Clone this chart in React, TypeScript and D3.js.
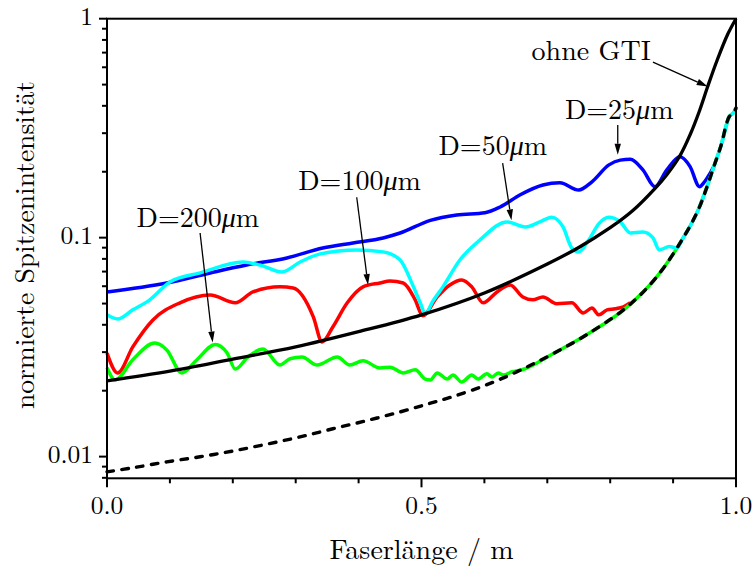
import React from 'react';
import * as d3 from 'd3';

const W = 753;
const H = 568;
const FONT = '"Latin Modern Roman", "Liberation Serif", serif';

type P = [number, number];

// x tick values / labels
const xMajorTicks = [0, 0.5, 1.0];
const xMajorLabels = ['0.0', '0.5', '1.0'];
const xMinorTicks = [0.1, 0.2, 0.3, 0.4, 0.6, 0.7, 0.8, 0.9];
// y tick values / labels
const yMajorTicks = [1, 0.1, 0.01];
const yMajorLabels = ['1', '0.1', '0.01'];

const xTitle = 'Faserlänge / m';
const yTitle = 'normierte Spitzenintensität';

// ohne GTI (solid black)
const ohneGTI: P[] = [
  [0, 0.0222], [0.1, 0.0246], [0.2, 0.0279], [0.3, 0.0317], [0.4, 0.0372],
  [0.5, 0.0444], [0.6, 0.0559], [0.7, 0.0758], [0.75, 0.0902], [0.8, 0.111], [0.836, 0.133],
  [0.871, 0.1675], [0.89, 0.194], [0.911, 0.237], [0.927, 0.295], [0.942, 0.38],
  [0.955, 0.49], [0.97, 0.646], [0.987, 0.851], [1.0, 1.0],
];

// limit curve (dashed black)
const limitCurve: P[] = [
  [0, 0.00852], [0.041, 0.00889], [0.095, 0.00946], [0.148, 0.00998], [0.2, 0.0106], [0.254, 0.0114],
  [0.307, 0.0123], [0.359, 0.0134], [0.413, 0.0146], [0.466, 0.016], [0.51, 0.0174], [0.55, 0.0188],
  [0.604, 0.0213], [0.657, 0.0248], [0.709, 0.0295], [0.763, 0.0361], [0.827, 0.0483], [0.874, 0.0662],
  [0.916, 0.0997], [0.94, 0.134], [0.954, 0.171], [0.965, 0.212], [0.976, 0.262], [0.989, 0.356],
  [0.997, 0.375], [1.0, 0.391],
];

// D = 25 µm (blue)
const d25: P[] = [
  [0, 0.0565], [0.095, 0.0621], [0.164, 0.069], [0.222, 0.075], [0.286, 0.0808], [0.343, 0.0897],
  [0.391, 0.0946], [0.439, 0.0997], [0.466, 0.105], [0.514, 0.12], [0.556, 0.127], [0.601, 0.13],
  [0.625, 0.138], [0.657, 0.157], [0.693, 0.174], [0.72, 0.178], [0.75, 0.165], [0.771, 0.18],
  [0.798, 0.215], [0.816, 0.226], [0.832, 0.228], [0.852, 0.204], [0.871, 0.171], [0.89, 0.204],
  [0.911, 0.234], [0.927, 0.211], [0.942, 0.171], [0.95, 0.18], [0.958, 0.195], [0.965, 0.212],
];

// D = 50 µm (cyan)
const d50: P[] = [
  [0, 0.0444], [0.017, 0.0425], [0.041, 0.0468], [0.068, 0.052], [0.1, 0.0627], [0.148, 0.069],
  [0.216, 0.0774], [0.243, 0.075], [0.278, 0.0697], [0.307, 0.0774], [0.339, 0.0843], [0.397, 0.0879],
  [0.439, 0.0861], [0.466, 0.0791], [0.486, 0.0608], [0.498, 0.0504], [0.506, 0.0449], [0.518, 0.0512],
  [0.534, 0.0596], [0.561, 0.0791], [0.593, 0.0977], [0.636, 0.118], [0.665, 0.112], [0.688, 0.118],
  [0.707, 0.124], [0.725, 0.112], [0.739, 0.0897], [0.75, 0.0861], [0.766, 0.0977], [0.782, 0.116],
  [0.798, 0.124], [0.816, 0.118], [0.832, 0.105], [0.852, 0.106], [0.868, 0.0997], [0.878, 0.0879],
  [0.894, 0.091], [0.906, 0.0897], [0.916, 0.0997], [0.94, 0.134], [0.954, 0.171], [0.965, 0.212],
  [0.976, 0.262], [0.989, 0.356], [0.997, 0.375], [1.0, 0.391],
];

// D = 100 µm (red)
const d100: P[] = [
  [0, 0.0297], [0.017, 0.0241], [0.041, 0.0317], [0.073, 0.0421], [0.116, 0.0504], [0.164, 0.0547],
  [0.204, 0.0504], [0.232, 0.0565], [0.275, 0.0596], [0.296, 0.0589], [0.328, 0.0435], [0.342, 0.0334],
  [0.359, 0.0391], [0.382, 0.0504], [0.407, 0.0596], [0.434, 0.0621], [0.45, 0.0634], [0.471, 0.0621],
  [0.49, 0.052], [0.502, 0.044], [0.525, 0.0536], [0.545, 0.0608], [0.564, 0.0641], [0.58, 0.0596],
  [0.598, 0.0504], [0.62, 0.0565], [0.641, 0.0608], [0.661, 0.0536], [0.677, 0.052], [0.693, 0.0536],
  [0.715, 0.0499], [0.739, 0.0504], [0.757, 0.0453], [0.771, 0.0477], [0.782, 0.0444], [0.795, 0.0468],
  [0.808, 0.0473], [0.821, 0.0483], [0.832, 0.0504],
];

// D = 200 µm (green)
const d200: P[] = [
  [0, 0.0255], [0.013, 0.0224], [0.041, 0.0277], [0.076, 0.033], [0.095, 0.0307], [0.119, 0.0241],
  [0.143, 0.0277], [0.172, 0.0325], [0.191, 0.0297], [0.204, 0.0251], [0.224, 0.0285], [0.248, 0.031],
  [0.275, 0.0262], [0.291, 0.028], [0.31, 0.0285], [0.334, 0.0262], [0.366, 0.0285], [0.386, 0.0262],
  [0.407, 0.0274], [0.434, 0.0254], [0.45, 0.0256], [0.471, 0.0241], [0.49, 0.0249], [0.506, 0.0226],
  [0.514, 0.0224], [0.525, 0.0241], [0.541, 0.0226], [0.55, 0.0236], [0.564, 0.0219], [0.58, 0.0236],
  [0.59, 0.0226], [0.604, 0.0239], [0.612, 0.0231], [0.622, 0.0241], [0.63, 0.0236], [0.644, 0.0244],
  [0.657, 0.0248], [0.709, 0.0295], [0.763, 0.0361], [0.827, 0.0483], [0.874, 0.0662], [0.916, 0.0997],
  [0.94, 0.134], [0.954, 0.171], [0.965, 0.212], [0.976, 0.262], [0.989, 0.356], [0.997, 0.375], [1.0, 0.391],
];

// annotations: label, label anchor (x, value), arrow start, arrow tip (data coords)
const annotations = [
  { pre: 'ohne GTI', mu: false, num: '', tx: 0.675, ty: 0.648, from: [0.868, 0.634], to: [0.955, 0.49] },
  { pre: 'D=', mu: true, num: '25', tx: 0.728, ty: 0.347, from: [0.812, 0.327], to: [0.812, 0.239] },
  { pre: 'D=', mu: true, num: '50', tx: 0.527, ty: 0.238, from: [0.629, 0.219], to: [0.643, 0.12] },
  { pre: 'D=', mu: true, num: '100', tx: 0.304, ty: 0.165, from: [0.397, 0.153], to: [0.415, 0.0608] },
  { pre: 'D=', mu: true, num: '200', tx: 0.047, ty: 0.1115, from: [0.148, 0.105], to: [0.168, 0.0332] },
];

const series = [
  { data: d25, color: '#0000ff' },
  { data: d100, color: '#ff0000' },
  { data: d200, color: '#00ff00' },
  { data: d50, color: '#00ffff' },
];

const x = d3.scaleLinear().domain([0, 1]).range([107, 736]);
const y = d3.scaleLog().domain([0.00796, 1]).range([478.3, 18.7]);

const line = d3
  .line<P>()
  .x((d) => x(d[0]))
  .y((d) => y(d[1]))
  .curve(d3.curveMonotoneX);

const smoothLine = d3
  .line<P>()
  .x((d) => x(d[0]))
  .y((d) => y(d[1]))
  .curve(d3.curveCatmullRom.alpha(0.5));

function Arrow({ x1, y1, x2, y2 }: { x1: number; y1: number; x2: number; y2: number }) {
  const a = Math.atan2(y2 - y1, x2 - x1);
  const L = 11;
  const w = 3.2;
  const bx = x2 - L * Math.cos(a);
  const by = y2 - L * Math.sin(a);
  const p1 = [bx + w * Math.sin(a), by - w * Math.cos(a)];
  const p2 = [bx - w * Math.sin(a), by + w * Math.cos(a)];
  return (
    <g>
      <line x1={x1} y1={y1} x2={bx} y2={by} stroke="#000" strokeWidth={1.3} />
      <polygon points={`${x2},${y2} ${p1[0]},${p1[1]} ${p2[0]},${p2[1]}`} fill="#000" />
    </g>
  );
}

const textStyle = { fontFamily: FONT };

export default function App() {
  const [y0, y1] = y.domain();
  const minorY: number[] = [];
  [0.001, 0.01, 0.1].forEach((dec) => {
    for (let m = 2; m <= 9; m++) {
      const v = m * dec;
      if (v >= y0 && v <= y1) minorY.push(v);
    }
  });
  const left = x(0);
  const right = x(1);
  const top = y(1);
  const bottom = y(y0);

  return (
    <svg
      width={W}
      height={H}
      viewBox={`0 0 ${W} ${H}`}
      style={{ position: 'absolute', left: 0, top: 0, background: '#fff', fontFamily: FONT }}
    >
      <rect x={0} y={0} width={W} height={H} fill="#fff" />
      {/* series */}
      {series.map((s, i) => (
        <path key={i} d={line(s.data) || ''} fill="none" stroke={s.color} strokeWidth={3.5} strokeLinejoin="round" />
      ))}
      <path d={smoothLine(ohneGTI) || ''} fill="none" stroke="#000" strokeWidth={3.3} />
      <path
        d={smoothLine(limitCurve) || ''}
        fill="none"
        stroke="#000"
        strokeWidth={3.4}
        strokeDasharray="6.5,8.5"
        strokeLinecap="round"
      />

      {/* frame */}
      <rect x={left} y={top} width={right - left} height={bottom - top} fill="none" stroke="#000" strokeWidth={2} />

      {/* y ticks */}
      {yMajorTicks.map((v, i) => (
        <g key={'ym' + i}>
          <line x1={left - 8} x2={left} y1={y(v)} y2={y(v)} stroke="#000" strokeWidth={2} />
          <text style={textStyle} x={left - 14} y={y(v)} dy="0.26em" textAnchor="end" fontSize={25.5}>
            {yMajorLabels[i]}
          </text>
        </g>
      ))}
      {minorY.map((v, i) => (
        <line key={'yn' + i} x1={left - 5} x2={left} y1={y(v)} y2={y(v)} stroke="#000" strokeWidth={2} />
      ))}

      {/* x ticks */}
      {xMajorTicks.map((v, i) => (
        <g key={'xm' + i}>
          <line x1={x(v)} x2={x(v)} y1={bottom} y2={bottom + 9} stroke="#000" strokeWidth={2} />
          <text style={textStyle} x={x(v)} y={514} textAnchor="middle" fontSize={25.5}>
            {xMajorLabels[i]}
          </text>
        </g>
      ))}
      {xMinorTicks.map((v, i) => (
        <line key={'xn' + i} x1={x(v)} x2={x(v)} y1={bottom} y2={bottom + 5} stroke="#000" strokeWidth={2} />
      ))}

      {/* axis titles */}
      <text style={textStyle} x={421.5} y={559} textAnchor="middle" fontSize={28}>
        {xTitle}
      </text>
      <text style={textStyle} transform={`translate(34,245) rotate(-90)`} textAnchor="middle" fontSize={27.5}>
        {yTitle}
      </text>

      {/* annotations */}
      {annotations.map((a, i) => (
        <g key={'an' + i}>
          <text style={textStyle} x={x(a.tx)} y={y(a.ty)} fontSize={28}>
            {a.pre}
            {a.num}
            {a.mu ? <tspan fontStyle="italic">μ</tspan> : null}
            {a.mu ? 'm' : null}
          </text>
          <Arrow x1={x(a.from[0])} y1={y(a.from[1])} x2={x(a.to[0])} y2={y(a.to[1])} />
        </g>
      ))}
    </svg>
  );
}
